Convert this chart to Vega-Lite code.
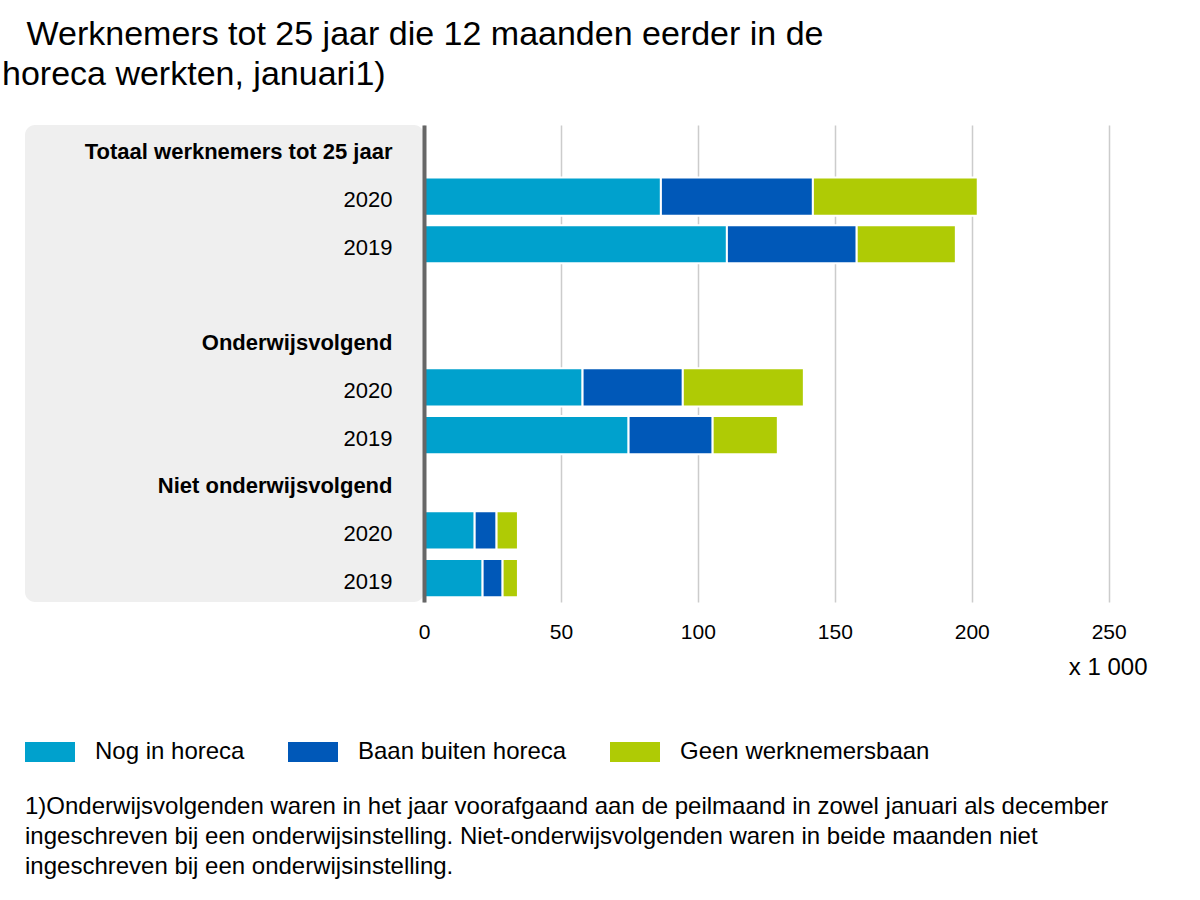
{
  "$schema": "https://vega.github.io/schema/vega-lite/v6.json",
  "padding": {"left": 2, "top": 18, "right": 10, "bottom": 10},
  "background": "white",
  "title": {
    "text": ["\u200b\u00a0\u00a0\u2006Werknemers tot 25 jaar die 12 maanden eerder in de", "horeca werkten, januari1)"],
    "anchor": "start",
    "fontSize": 34,
    "fontWeight": "normal",
    "font": "Liberation Sans",
    "lineHeight": 40,
    "offset": 33,
    "color": "#000000"
  },
  "datasets": {
    "rijen": [
      {"rij": "Totaal"},
      {"rij": "Totaal 2020"},
      {"rij": "Totaal 2019"},
      {"rij": "leeg"},
      {"rij": "Onderwijs"},
      {"rij": "Onderwijs 2020"},
      {"rij": "Onderwijs 2019"},
      {"rij": "Niet"},
      {"rij": "Niet 2020"},
      {"rij": "Niet 2019"}
    ],
    "balken": [
      {"rij": "Totaal 2020", "categorie": "Nog in horeca", "volgorde": 1, "waarde": 86.5},
      {"rij": "Totaal 2020", "categorie": "Baan buiten horeca", "volgorde": 2, "waarde": 55.5},
      {"rij": "Totaal 2020", "categorie": "Geen werknemersbaan", "volgorde": 3, "waarde": 60.2},
      {"rij": "Totaal 2019", "categorie": "Nog in horeca", "volgorde": 1, "waarde": 110.6},
      {"rij": "Totaal 2019", "categorie": "Baan buiten horeca", "volgorde": 2, "waarde": 47.4},
      {"rij": "Totaal 2019", "categorie": "Geen werknemersbaan", "volgorde": 3, "waarde": 36.2},
      {"rij": "Onderwijs 2020", "categorie": "Nog in horeca", "volgorde": 1, "waarde": 57.9},
      {"rij": "Onderwijs 2020", "categorie": "Baan buiten horeca", "volgorde": 2, "waarde": 36.6},
      {"rij": "Onderwijs 2020", "categorie": "Geen werknemersbaan", "volgorde": 3, "waarde": 44.2},
      {"rij": "Onderwijs 2019", "categorie": "Nog in horeca", "volgorde": 1, "waarde": 74.7},
      {"rij": "Onderwijs 2019", "categorie": "Baan buiten horeca", "volgorde": 2, "waarde": 30.7},
      {"rij": "Onderwijs 2019", "categorie": "Geen werknemersbaan", "volgorde": 3, "waarde": 23.8},
      {"rij": "Niet 2020", "categorie": "Nog in horeca", "volgorde": 1, "waarde": 18.5},
      {"rij": "Niet 2020", "categorie": "Baan buiten horeca", "volgorde": 2, "waarde": 8.0},
      {"rij": "Niet 2020", "categorie": "Geen werknemersbaan", "volgorde": 3, "waarde": 7.8},
      {"rij": "Niet 2019", "categorie": "Nog in horeca", "volgorde": 1, "waarde": 21.4},
      {"rij": "Niet 2019", "categorie": "Baan buiten horeca", "volgorde": 2, "waarde": 7.3},
      {"rij": "Niet 2019", "categorie": "Geen werknemersbaan", "volgorde": 3, "waarde": 5.6}
    ],
    "voetnoot": [
      {"regel": 1, "tekst": "1)Onderwijsvolgenden waren in het jaar voorafgaand aan de peilmaand in zowel januari als december"},
      {"regel": 2, "tekst": "ingeschreven bij een onderwijsinstelling. Niet-onderwijsvolgenden waren in beide maanden niet"},
      {"regel": 3, "tekst": "ingeschreven bij een onderwijsinstelling."}
    ]
  },
  "vconcat": [
    {
      "hconcat": [
        {
          "width": 23,
          "height": 477,
          "data": {"values": []},
          "mark": "point"
        },
        {
          "width": 399,
          "height": 477,
          "data": {"name": "rijen"},
          "view": {"fill": "#efefef", "cornerRadius": 10, "stroke": null},
          "mark": {"type": "point", "opacity": 0},
          "encoding": {
            "y": {
              "field": "rij",
              "type": "nominal",
              "sort": null,
              "scale": {"domain": ["Totaal", "Totaal 2020", "Totaal 2019", "leeg", "Onderwijs", "Onderwijs 2020", "Onderwijs 2019", "Niet", "Niet 2020", "Niet 2019"]},
              "axis": {
                "orient": "right",
                "title": null,
                "domain": false,
                "ticks": false,
                "tickSize": 0,
                "grid": false,
                "labelPadding": -32,
                "labelOffset": 3,
                "labelAlign": "right",
                "labelBaseline": "middle",
                "labelFontSize": 22,
                "labelFont": "Liberation Sans",
                "labelColor": "#000000",
                "labelLimit": 400,
                "minExtent": 0,
                "labelFontWeight": {"condition": {"test": "datum.value == 'Totaal' || datum.value == 'Onderwijs' || datum.value == 'Niet'", "value": "bold"}, "value": "normal"},
                "labelExpr": "datum.value == 'Totaal' ? 'Totaal werknemers tot 25 jaar' : datum.value == 'Onderwijs' ? 'Onderwijsvolgend' : datum.value == 'Niet' ? 'Niet onderwijsvolgend' : datum.value == 'leeg' ? '' : (datum.value == 'Totaal 2020' || datum.value == 'Onderwijs 2020' || datum.value == 'Niet 2020') ? '2020' : '2019'"
              }
            }
          }
        },
        {
          "width": 723,
          "height": 477,
          "data": {"name": "balken"},
          "mark": {"type": "bar", "stroke": "white", "strokeWidth": 2},
          "encoding": {
            "y": {
              "field": "rij",
              "type": "nominal",
              "sort": null,
              "scale": {"domain": ["Totaal", "Totaal 2020", "Totaal 2019", "leeg", "Onderwijs", "Onderwijs 2020", "Onderwijs 2019", "Niet", "Niet 2020", "Niet 2019"], "paddingInner": 0.2, "paddingOuter": 0.1},
              "axis": {"title": null, "labels": false, "ticks": false, "domain": true, "domainColor": "#666666", "domainWidth": 4, "grid": false, "minExtent": 0, "zindex": 1}
            },
            "x": {
              "field": "waarde",
              "type": "quantitative",
              "stack": "zero",
              "scale": {"domain": [0, 264], "nice": false},
              "axis": {
                "values": [0, 50, 100, 150, 200, 250],
                "grid": true,
                "gridColor": "#cccccc",
                "gridWidth": 1.5,
                "domain": false,
                "ticks": false,
                "labelFontSize": 21,
                "labelFont": "Liberation Sans",
                "labelColor": "#000000",
                "labelPadding": 19,
                "labelFlush": false,
                "title": "x 1 000",
                "titleAnchor": "end",
                "titleFontSize": 24,
                "titleFont": "Liberation Sans",
                "titleFontWeight": "normal",
                "titleColor": "#000000",
                "titlePadding": 13
              }
            },
            "color": {
              "field": "categorie",
              "type": "nominal",
              "scale": {"domain": ["Nog in horeca", "Baan buiten horeca", "Geen werknemersbaan"], "range": ["#00a1cd", "#0058b8", "#afcb05"]},
              "legend": {
                "title": null,
                "orient": "none",
                "legendX": -399,
                "legendY": 602,
                "direction": "horizontal",
                "symbolType": "M-1,-0.4H1V0.4H-1Z",
                "symbolSize": 2500,
                "symbolStrokeWidth": 0,
                "symbolOpacity": 1,
                "labelFontSize": 24,
                "labelFont": "Liberation Sans",
                "labelColor": "#000000",
                "labelOffset": 20,
                "columnPadding": 43,
                "labelLimit": 400
              }
            },
            "order": {"field": "volgorde", "type": "quantitative"}
          }
        }
      ],
      "spacing": 0,
      "bounds": "flush",
      "resolve": {"scale": {"color": "independent"}, "legend": {"color": "independent"}}
    },
    {
      "width": 1100,
      "height": 90,
      "data": {"name": "voetnoot"},
      "mark": {"type": "text", "align": "left", "baseline": "middle", "fontSize": 24, "font": "Liberation Sans", "color": "#000000"},
      "encoding": {
        "y": {"field": "regel", "type": "ordinal", "axis": null},
        "x": {"value": 23},
        "text": {"field": "tekst"}
      }
    }
  ],
  "spacing": 28,
  "config": {"view": {"stroke": null}, "font": "Liberation Sans"}
}
